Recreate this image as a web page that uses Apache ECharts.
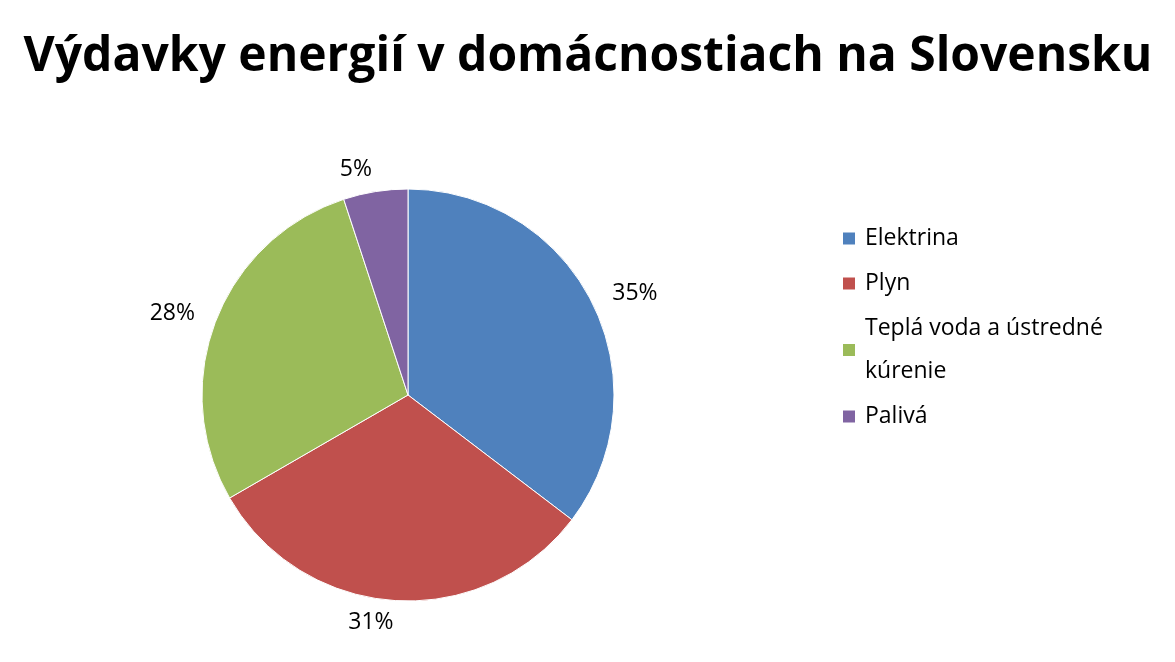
<!DOCTYPE html>
<html><head><meta charset="utf-8">
<script src="https://cdn.jsdelivr.net/npm/echarts@6/dist/echarts.min.js"></script>
<style>html,body{margin:0;background:#fff}#c{width:1175px;height:662px}</style>
</head><body><div id="c"></div>
<script>
const categories = ['Elektrina','Plyn','Teplá voda a ústredné kúrenie','Palivá'];
const values = [35,31,28,5];
const colors = ['#4F81BD','#C0504D','#9BBB59','#8064A2'];
const chart = echarts.init(document.getElementById('c'));
chart.setOption({
  backgroundColor:'#fff',
  title:{text:'Výdavky energií v domácnostiach na Slovensku',left:583,top:28,textAlign:'center',
    textStyle:{fontFamily:'Open Sans',fontWeight:'bold',fontSize:48,color:'#000'}},
  legend:{orient:'vertical',left:836,top:212,itemWidth:14,itemHeight:14,itemGap:2,icon:'rect',
    formatter:n=>n==='Teplá voda a ústredné kúrenie'?'Teplá voda a ústredné\nkúrenie':n,
    textStyle:{fontFamily:'Open Sans',fontSize:23,color:'#000',lineHeight:43,padding:[0,0,0,4]}},
  series:[{type:'pie',center:[408,395],radius:206,startAngle:90,clockwise:true,
    color:colors,
    data:categories.map((n,i)=>({name:n,value:values[i]})),
    itemStyle:{borderColor:'#fff',borderWidth:1},
    label:{position:'outside',formatter:'{c}%',fontFamily:'Open Sans',fontSize:23,color:'#000',distanceToLabelLine:0},
    labelLine:{show:false,length:22,length2:0},
    emphasis:{disabled:true},animation:false}]
});
</script></body></html>
